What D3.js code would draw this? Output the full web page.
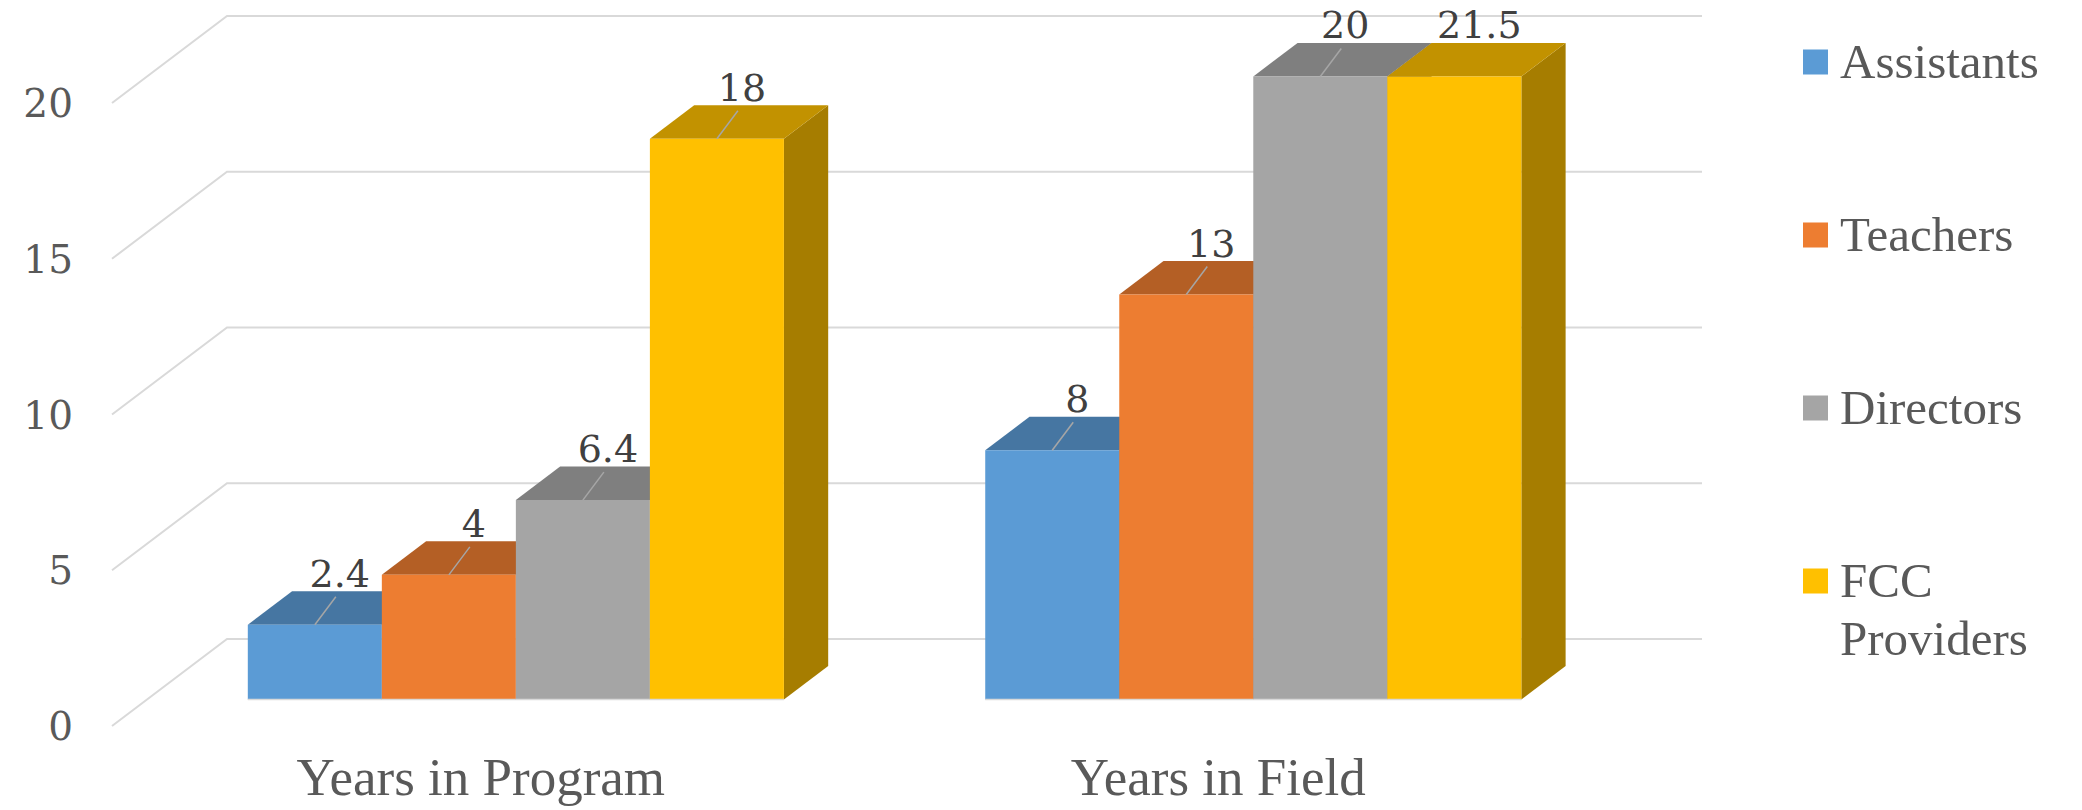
<!DOCTYPE html>
<html><head><meta charset="utf-8">
<script src="https://cdn.jsdelivr.net/npm/d3@7"></script>
<style>body{margin:0;background:#fff}svg{display:block}</style>
</head><body>
<script>
const categories = ["Years in Program", "Years in Field"];
const seriesNames = ["Assistants", "Teachers", "Directors", "FCC Providers"];
const assistants = [2.4, 8];
const teachers = [4, 13];
const directors = [6.4, 20];
const fccProviders = [18, 21.5];
const yTicks = [0, 5, 10, 15, 20];
const frontColors = ["#5B9BD5", "#ED7D31", "#A5A5A5", "#FFC000"];
const topColors = ["#4676A2", "#B45F25", "#7F7F7F", "#C29200"];
const sideColors = ["#3E6A92", "#A0541F", "#6E6E6E", "#A67D00"];

const W = 2082, H = 810;
const values = [assistants, teachers, directors, fccProviders];
const yMax = 20;

const svg = d3.select("body").append("svg").attr("width", W).attr("height", H)
  .style("background", "#fff");

const y = d3.scaleLinear().domain([0, yMax]).range([726, 103]);
const depth = { dx: 115, dy: -87 };
const x0 = d3.scaleBand().domain(categories).range([112, 1587])
  .paddingInner(0.273).paddingOuter(0.1366);
const x1 = d3.scaleBand().domain(seriesNames).range([0, x0.bandwidth()]);
const zFront = 0.305, zBack = 0.69;
const P = (x, v, z) => [x + z * depth.dx, y(v) + z * depth.dy];
const poly = d3.line();

// gridlines (left wall + back wall)
const grid = svg.append("g");
yTicks.forEach(t => {
  grid.append("path")
    .attr("d", poly([P(112, t, 0), P(112, t, 1), P(1587, t, 1)]))
    .attr("fill", "none").attr("stroke", "#d9d9d9").attr("stroke-width", 2);
});

// y tick labels
svg.append("g").selectAll("text").data(yTicks).join("text")
  .attr("x", 73).attr("y", d => y(d) + 14)
  .attr("text-anchor", "end")
  .attr("font-family", "DejaVu Serif").attr("font-size", 39)
  .attr("fill", "#595959").text(d => d);

// bars
const bars = svg.append("g");
const labels = [];
categories.forEach((cat, i) => {
  seriesNames.forEach((s, j) => {
    const v = values[j][i];
    const vc = Math.min(v, yMax);
    const xl = x0(cat) + x1(s), xr = xl + x1.bandwidth();
    bars.append("path").attr("d", poly([P(xr, 0, zFront), P(xr, 0, zBack), P(xr, vc, zBack), P(xr, vc, zFront)]) + "Z")
      .attr("fill", sideColors[j]);
    bars.append("path").attr("d", poly([P(xl, vc, zFront), P(xr, vc, zFront), P(xr, vc, zBack), P(xl, vc, zBack)]) + "Z")
      .attr("fill", topColors[j]);
    bars.append("path").attr("d", poly([P(xl, 0, zFront), P(xr, 0, zFront), P(xr, vc, zFront), P(xl, vc, zFront)]) + "Z")
      .attr("fill", frontColors[j]);
    bars.append("path").attr("d", poly([P(xl, 0, zFront), P(xr, 0, zFront)]))
      .attr("stroke", "#d9d9d9").attr("stroke-width", 1.5).attr("fill", "none");
    const c = P((xl + xr) / 2, vc, zFront);
    labels.push({ v, clipped: v > yMax, c });
  });
});

// data labels + leader lines
const lg = svg.append("g");
labels.forEach(d => {
  if (!d.clipped) {
    lg.append("line").attr("x1", d.c[0]).attr("y1", d.c[1])
      .attr("x2", d.c[0] + 21).attr("y2", d.c[1] - 28)
      .attr("stroke", "#a6a6a6").attr("stroke-width", 1.5);
  }
  lg.append("text").attr("x", d.c[0] + 25).attr("y", d.c[1] - 38)
    .attr("text-anchor", "middle")
    .attr("font-family", "DejaVu Serif").attr("font-size", 38)
    .attr("fill", "#404040").text(d.v);
});

// category labels
svg.append("g").selectAll("text").data(categories).join("text")
  .attr("x", d => x0(d) + x0.bandwidth() / 2).attr("y", 795)
  .attr("text-anchor", "middle")
  .attr("font-family", "Liberation Serif").attr("font-size", 53)
  .attr("fill", "#595959").text(d => d);

// legend
const leg = svg.append("g");
seriesNames.forEach((s, j) => {
  const cy = 62 + j * 173;
  leg.append("rect").attr("x", 1803).attr("y", cy - 12.5).attr("width", 25).attr("height", 25)
    .attr("fill", frontColors[j]);
  const t = leg.append("text").attr("x", 1840).attr("y", cy + 16)
    .attr("font-family", "Liberation Serif").attr("font-size", 49).attr("fill", "#595959");
  const parts = s === "FCC Providers" ? ["FCC", "Providers"] : [s];
  parts.forEach((p, k) => {
    t.append("tspan").attr("x", 1840).attr("dy", k === 0 ? 0 : 58).text(p);
  });
});
</script>
</body></html>
